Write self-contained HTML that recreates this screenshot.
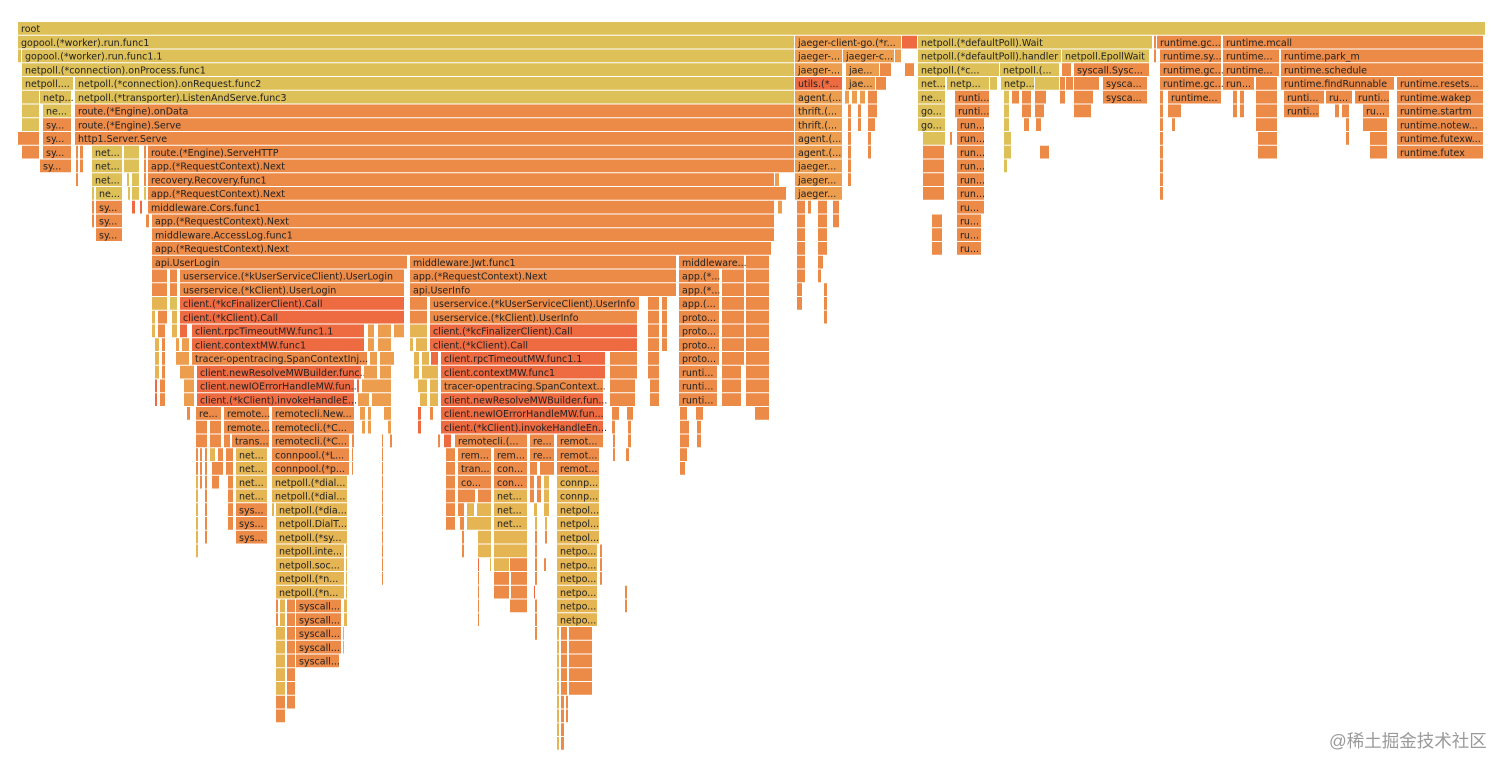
<!DOCTYPE html>
<html><head><meta charset="utf-8">
<style>
html,body{margin:0;padding:0;background:#fff;width:1512px;height:768px;overflow:hidden}
#fg{position:absolute;left:0;top:0}
.wm{position:absolute;left:1329px;top:728px;font-family:"Liberation Sans","Noto Sans CJK SC",sans-serif;font-size:17.5px;color:#9a9a9a}
</style></head><body>
<svg id="fg" width="1512" height="768"></svg>
<div class="wm">@稀土掘金技术社区</div>
<script>
// samples on the same scale as the root frame [18,1486]
const rootStart = 18, rootEnd = 1486;
const palette = {Y:"#ddc058",L:"#e4b552",A:"#ec9d4e",O:"#ec8a47",R:"#ee6b41"};
// [depth, start, end, name, color]
const frames = [
[0,18,1486,"root","Y"],
[1,18,795,"gopool.(*worker).run.func1","Y"],[1,795,902,"jaeger-client-go.(*r...","A"],[1,902,918,"","R"],[1,918,1153,"netpoll.(*defaultPoll).Wait","Y"],[1,1154,1157,"","O"],[1,1157,1222,"runtime.gc...","O"],[1,1223,1484,"runtime.mcall","O"],
[2,18,22,"","Y"],[2,22,795,"gopool.(*worker).run.func1.1","Y"],[2,795,843,"jaeger-...","A"],[2,843,895,"jaeger-c...","A"],[2,895,902,"","A"],[2,918,1062,"netpoll.(*defaultPoll).handler","Y"],[2,1062,1150,"netpoll.EpollWait","Y"],[2,1154,1157,"","O"],[2,1160,1222,"runtime.sy...","O"],[2,1223,1280,"runtime...","O"],[2,1281,1484,"runtime.park_m","O"],
[3,22,795,"netpoll.(*connection).onProcess.func1","Y"],[3,795,843,"jaeger-...","A"],[3,846,880,"jae...","A"],[3,880,892,"","O"],[3,905,915,"","O"],[3,918,1000,"netpoll.(*c...","Y"],[3,1000,1060,"netpoll.(...","Y"],[3,1062,1072,"","O"],[3,1074,1150,"syscall.Sysc...","O"],[3,1160,1222,"runtime.gc...","O"],[3,1223,1280,"runtime...","O"],[3,1281,1484,"runtime.schedule","O"],
[4,22,74,"netpoll....","Y"],[4,75,795,"netpoll.(*connection).onRequest.func2","Y"],[4,795,843,"utils.(*...","R"],[4,846,876,"jae...","A"],[4,876,887,"","O"],[4,918,946,"net...","Y"],[4,947,990,"netp...","Y"],[4,990,998,"","Y"],[4,1001,1035,"netp...","Y"],[4,1035,1060,"","Y"],[4,1060,1066,"","O"],[4,1066,1074,"","O"],[4,1074,1100,"","O"],[4,1103,1148,"sysca...","O"],[4,1160,1222,"runtime.gc...","O"],[4,1223,1255,"run...","O"],[4,1256,1278,"","O"],[4,1281,1395,"runtime.findRunnable","O"],[4,1397,1484,"runtime.resets...","O"],
[5,22,40,"","Y"],[5,40,72,"netp...","Y"],[5,75,795,"netpoll.(*transporter).ListenAndServe.func3","Y"],[5,795,843,"agent.(...","A"],[5,845,850,"","A"],[5,852,858,"","A"],[5,860,866,"","A"],[5,868,878,"","O"],[5,918,946,"ne...","Y"],[5,955,990,"runti...","O"],[5,1004,1010,"","Y"],[5,1012,1020,"","O"],[5,1022,1032,"","O"],[5,1035,1047,"","O"],[5,1060,1066,"","O"],[5,1074,1094,"","O"],[5,1103,1148,"sysca...","O"],[5,1160,1164,"","O"],[5,1168,1222,"runtime...","O"],[5,1233,1238,"","O"],[5,1240,1245,"","O"],[5,1256,1278,"","O"],[5,1284,1325,"runti...","O"],[5,1326,1353,"ru...","O"],[5,1355,1390,"runti...","O"],[5,1397,1484,"runtime.wakep","O"],
[6,22,40,"","Y"],[6,43,72,"ne...","Y"],[6,75,795,"route.(*Engine).onData","O"],[6,795,843,"thrift.(...","A"],[6,848,852,"","O"],[6,858,862,"","O"],[6,868,878,"","O"],[6,918,946,"go...","Y"],[6,955,990,"runti...","O"],[6,1004,1010,"","Y"],[6,1022,1032,"","O"],[6,1035,1045,"","O"],[6,1074,1092,"","O"],[6,1160,1164,"","O"],[6,1168,1182,"","O"],[6,1233,1238,"","O"],[6,1240,1245,"","O"],[6,1256,1278,"","O"],[6,1284,1320,"runti...","O"],[6,1335,1340,"","O"],[6,1342,1350,"","O"],[6,1363,1390,"ru...","O"],[6,1397,1484,"runtime.startm","O"],
[7,22,40,"","Y"],[7,43,72,"sy...","O"],[7,75,795,"route.(*Engine).Serve","O"],[7,795,843,"thrift.(...","A"],[7,848,852,"","O"],[7,858,862,"","O"],[7,868,876,"","O"],[7,918,946,"go...","Y"],[7,957,985,"run...","O"],[7,1004,1010,"","Y"],[7,1024,1030,"","O"],[7,1036,1042,"","O"],[7,1160,1164,"","O"],[7,1172,1176,"","O"],[7,1256,1278,"","O"],[7,1346,1350,"","O"],[7,1363,1388,"","O"],[7,1397,1484,"runtime.notew...","O"],
[8,18,40,"","O"],[8,43,72,"sy...","O"],[8,75,795,"http1.Server.Serve","O"],[8,795,843,"agent.(...","A"],[8,848,852,"","O"],[8,868,872,"","O"],[8,923,946,"","Y"],[8,950,953,"","O"],[8,957,985,"run...","O"],[8,1004,1012,"","Y"],[8,1160,1164,"","O"],[8,1346,1350,"","O"],[8,1370,1388,"","O"],[8,1397,1484,"runtime.futexw...","O"],
[9,22,40,"","O"],[9,43,72,"sy...","O"],[9,76,79,"","O"],[9,80,84,"","O"],[9,92,123,"net...","Y"],[9,124,140,"","Y"],[9,144,147,"","O"],[9,148,795,"route.(*Engine).ServeHTTP","O"],[9,795,843,"agent.(...","A"],[9,848,852,"","O"],[9,868,872,"","O"],[9,923,945,"","O"],[9,957,985,"run...","O"],[9,1004,1012,"","Y"],[9,1040,1050,"","O"],[9,1160,1164,"","O"],[9,1370,1388,"","O"],[9,1397,1484,"runtime.futex","O"],
[10,40,72,"sy...","O"],[10,76,79,"","O"],[10,80,84,"","O"],[10,92,123,"net...","Y"],[10,124,140,"","Y"],[10,144,147,"","O"],[10,148,795,"app.(*RequestContext).Next","O"],[10,795,843,"jaeger...","A"],[10,848,852,"","O"],[10,923,945,"","O"],[10,957,985,"run...","O"],[10,1004,1008,"","Y"],[10,1160,1164,"","O"],
[11,76,79,"","O"],[11,92,123,"net...","Y"],[11,127,130,"","Y"],[11,132,140,"","Y"],[11,144,147,"","O"],[11,148,775,"recovery.Recovery.func1","O"],[11,775,780,"","A"],[11,795,843,"jaeger...","A"],[11,848,852,"","O"],[11,923,945,"","O"],[11,957,985,"run...","O"],[11,1160,1164,"","O"],
[12,92,95,"","Y"],[12,96,123,"ne...","Y"],[12,128,131,"","Y"],[12,132,140,"","Y"],[12,144,147,"","Y"],[12,148,787,"app.(*RequestContext).Next","O"],[12,795,843,"jaeger...","A"],[12,923,945,"","O"],[12,957,985,"run...","O"],[12,1160,1164,"","O"],
[13,92,95,"","O"],[13,96,123,"sy...","O"],[13,132,136,"","R"],[13,140,143,"","R"],[13,148,775,"middleware.Cors.func1","O"],[13,778,783,"","A"],[13,797,806,"","O"],[13,808,812,"","O"],[13,818,828,"","O"],[13,833,840,"","O"],[13,957,985,"ru...","O"],
[14,92,95,"","O"],[14,96,123,"sy...","O"],[14,146,150,"","O"],[14,152,775,"app.(*RequestContext).Next","O"],[14,797,806,"","O"],[14,818,828,"","O"],[14,833,840,"","O"],[14,932,943,"","O"],[14,957,982,"ru...","O"],
[15,96,123,"sy...","O"],[15,152,775,"middleware.AccessLog.func1","O"],[15,797,806,"","O"],[15,818,828,"","O"],[15,932,943,"","O"],[15,957,982,"ru...","O"],
[16,152,772,"app.(*RequestContext).Next","O"],[16,797,806,"","O"],[16,818,828,"","O"],[16,932,943,"","O"],[16,957,982,"ru...","O"],
[17,152,408,"api.UserLogin","O"],[17,410,677,"middleware.Jwt.func1","O"],[17,679,745,"middleware...","O"],[17,746,770,"","O"],[17,797,806,"","O"],[17,818,824,"","O"],
[18,152,168,"","O"],[18,170,178,"","O"],[18,180,405,"userservice.(*kUserServiceClient).UserLogin","O"],[18,410,677,"app.(*RequestContext).Next","O"],[18,679,720,"app.(*...","O"],[18,722,745,"","O"],[18,746,770,"","O"],[18,797,806,"","O"],[18,818,822,"","O"],
[19,152,168,"","O"],[19,170,178,"","O"],[19,180,405,"userservice.(*kClient).UserLogin","O"],[19,410,677,"api.UserInfo","O"],[19,679,720,"app.(*...","O"],[19,722,745,"","O"],[19,746,770,"","O"],[19,797,803,"","O"],[19,824,828,"","O"],
[20,152,168,"","L"],[20,170,178,"","Y"],[20,180,405,"client.(*kcFinalizerClient).Call","R"],[20,410,428,"","O"],[20,430,640,"userservice.(*kUserServiceClient).UserInfo","O"],[20,648,660,"","O"],[20,662,668,"","O"],[20,679,720,"app.(...","O"],[20,722,745,"","O"],[20,746,770,"","O"],[20,797,803,"","O"],[20,824,828,"","O"],
[21,152,156,"","L"],[21,158,168,"","O"],[21,172,178,"","L"],[21,180,405,"client.(*kClient).Call","R"],[21,410,428,"","O"],[21,430,638,"userservice.(*kClient).UserInfo","O"],[21,648,660,"","O"],[21,662,668,"","O"],[21,679,720,"proto...","O"],[21,722,745,"","O"],[21,746,770,"","O"],[21,824,828,"","O"],
[22,152,156,"","L"],[22,158,166,"","O"],[22,172,178,"","L"],[22,180,188,"","R"],[22,192,365,"client.rpcTimeoutMW.func1.1","R"],[22,368,375,"","A"],[22,378,392,"","A"],[22,394,405,"","A"],[22,410,428,"","L"],[22,430,638,"client.(*kcFinalizerClient).Call","R"],[22,648,660,"","O"],[22,662,668,"","O"],[22,679,720,"proto...","O"],[22,722,745,"","O"],[22,746,770,"","O"],
[23,155,160,"","L"],[23,162,166,"","O"],[23,176,180,"","A"],[23,182,190,"","A"],[23,192,365,"client.contextMW.func1","R"],[23,368,375,"","A"],[23,378,392,"","A"],[23,410,414,"","L"],[23,416,428,"","L"],[23,430,638,"client.(*kClient).Call","R"],[23,648,660,"","O"],[23,662,668,"","O"],[23,679,720,"proto...","O"],[23,722,745,"","O"],[23,746,770,"","O"],
[24,155,160,"","L"],[24,162,166,"","O"],[24,176,190,"","A"],[24,192,368,"tracer-opentracing.SpanContextInj...","O"],[24,370,378,"","A"],[24,380,395,"","A"],[24,414,420,"","L"],[24,422,430,"","L"],[24,431,439,"","R"],[24,441,606,"client.rpcTimeoutMW.func1.1","R"],[24,610,638,"","O"],[24,648,660,"","O"],[24,679,720,"proto...","O"],[24,722,745,"","O"],[24,746,770,"","O"],
[25,155,160,"","L"],[25,162,166,"","O"],[25,180,195,"","A"],[25,197,362,"client.newResolveMWBuilder.func...","R"],[25,364,378,"","A"],[25,380,392,"","A"],[25,414,420,"","L"],[25,422,439,"","L"],[25,441,606,"client.contextMW.func1","R"],[25,610,638,"","O"],[25,648,660,"","O"],[25,679,718,"runti...","O"],[25,722,742,"","O"],[25,746,770,"","O"],
[26,155,158,"","R"],[26,160,166,"","O"],[26,184,195,"","A"],[26,197,355,"client.newIOErrorHandleMW.fun...","R"],[26,357,360,"","R"],[26,362,392,"","A"],[26,418,428,"","L"],[26,430,439,"","L"],[26,441,604,"tracer-opentracing.SpanContext...","O"],[26,610,636,"","O"],[26,650,660,"","O"],[26,679,718,"runti...","O"],[26,722,742,"","O"],[26,746,770,"","O"],
[27,155,158,"","R"],[27,160,166,"","O"],[27,184,195,"","A"],[27,197,355,"client.(*kClient).invokeHandleE...","R"],[27,358,370,"","A"],[27,372,392,"","A"],[27,420,428,"","L"],[27,430,439,"","L"],[27,441,604,"client.newResolveMWBuilder.fun...","R"],[27,610,636,"","O"],[27,650,660,"","O"],[27,679,718,"runti...","O"],[27,722,742,"","O"],[27,746,770,"","O"],
[28,187,191,"","O"],[28,196,222,"re...","O"],[28,224,270,"remote...","O"],[28,272,355,"remotecli.New...","O"],[28,360,366,"","A"],[28,368,372,"","A"],[28,384,392,"","A"],[28,418,422,"","R"],[28,430,434,"","O"],[28,441,604,"client.newIOErrorHandleMW.fun...","R"],[28,612,620,"","O"],[28,627,634,"","O"],[28,680,688,"","O"],[28,696,704,"","O"],[28,755,770,"","O"],
[29,196,208,"","O"],[29,210,222,"","O"],[29,224,270,"remote...","O"],[29,272,355,"remotecli.(*C...","O"],[29,362,366,"","A"],[29,368,372,"","A"],[29,388,392,"","A"],[29,418,422,"","R"],[29,441,604,"client.(*kClient).invokeHandleEn...","R"],[29,612,616,"","O"],[29,628,632,"","O"],[29,680,690,"","O"],[29,697,702,"","O"],
[30,196,208,"","O"],[30,210,222,"","O"],[30,224,231,"","O"],[30,232,270,"trans...","O"],[30,272,350,"remotecli.(*C...","O"],[30,352,355,"","O"],[30,382,384,"","O"],[30,390,393,"","O"],[30,438,441,"","O"],[30,444,452,"","R"],[30,455,528,"remotecli.(...","O"],[30,530,555,"re...","O"],[30,557,604,"remot...","O"],[30,613,616,"","O"],[30,628,632,"","O"],[30,680,690,"","O"],[30,697,702,"","O"],
[31,196,199,"","O"],[31,200,203,"","O"],[31,205,208,"","O"],[31,210,216,"","L"],[31,218,224,"","O"],[31,226,234,"","O"],[31,236,268,"net...","L"],[31,272,350,"connpool.(*L...","O"],[31,352,354,"","O"],[31,382,384,"","O"],[31,446,456,"","O"],[31,458,492,"rem...","O"],[31,494,528,"rem...","O"],[31,530,555,"re...","O"],[31,557,600,"remot...","O"],[31,613,616,"","O"],[31,626,630,"","O"],[31,680,688,"","O"],
[32,196,199,"","O"],[32,200,203,"","O"],[32,205,208,"","O"],[32,212,224,"","O"],[32,226,234,"","O"],[32,236,268,"net...","L"],[32,272,350,"connpool.(*p...","O"],[32,352,354,"","O"],[32,382,384,"","O"],[32,446,456,"","O"],[32,458,492,"tran...","O"],[32,494,528,"con...","O"],[32,530,538,"","O"],[32,540,555,"","O"],[32,557,600,"remot...","O"],[32,680,686,"","O"],
[33,196,199,"","L"],[33,200,203,"","O"],[33,205,208,"","O"],[33,212,220,"","O"],[33,228,234,"","O"],[33,236,268,"net...","L"],[33,272,348,"netpoll.(*dial...","L"],[33,382,384,"","O"],[33,446,456,"","O"],[33,458,492,"co...","O"],[33,494,528,"con...","O"],[33,530,535,"","O"],[33,537,542,"","O"],[33,544,550,"","L"],[33,557,600,"connp...","L"],
[34,196,199,"","L"],[34,205,208,"","O"],[34,228,234,"","O"],[34,236,268,"net...","L"],[34,272,348,"netpoll.(*dial...","L"],[34,382,384,"","O"],[34,446,456,"","O"],[34,458,476,"","O"],[34,478,492,"","O"],[34,494,528,"net...","L"],[34,530,535,"","O"],[34,537,542,"","O"],[34,544,550,"","L"],[34,557,600,"connp...","L"],
[35,196,199,"","L"],[35,205,208,"","O"],[35,228,234,"","O"],[35,236,268,"sys...","O"],[35,272,275,"","L"],[35,276,348,"netpoll.(*dia...","L"],[35,382,384,"","O"],[35,446,456,"","O"],[35,458,465,"","O"],[35,467,475,"","L"],[35,477,492,"","L"],[35,494,528,"net...","L"],[35,534,538,"","L"],[35,544,550,"","L"],[35,557,600,"netpol...","L"],
[36,196,199,"","L"],[36,205,208,"","O"],[36,228,234,"","O"],[36,236,268,"sys...","O"],[36,276,348,"netpoll.DialT...","L"],[36,382,384,"","O"],[36,446,456,"","O"],[36,460,465,"","O"],[36,467,492,"","L"],[36,494,528,"net...","L"],[36,535,538,"","L"],[36,545,548,"","L"],[36,557,600,"netpol...","L"],
[37,196,199,"","L"],[37,205,208,"","O"],[37,236,268,"sys...","O"],[37,276,348,"netpoll.(*sy...","L"],[37,382,384,"","O"],[37,462,465,"","O"],[37,478,492,"","L"],[37,494,528,"","L"],[37,535,538,"","O"],[37,545,548,"","O"],[37,557,600,"netpol...","L"],
[38,196,199,"","L"],[38,276,345,"netpoll.inte...","L"],[38,346,348,"","L"],[38,382,384,"","O"],[38,462,465,"","O"],[38,478,492,"","L"],[38,494,528,"","L"],[38,535,538,"","O"],[38,557,598,"netpo...","L"],[38,600,603,"","O"],
[39,276,345,"netpoll.soc...","L"],[39,346,348,"","L"],[39,382,384,"","O"],[39,478,480,"","R"],[39,490,492,"","L"],[39,494,510,"","L"],[39,510,528,"","O"],[39,535,538,"","O"],[39,544,547,"","O"],[39,557,598,"netpo...","L"],[39,600,603,"","O"],
[40,276,345,"netpoll.(*n...","L"],[40,346,348,"","L"],[40,382,384,"","O"],[40,478,480,"","O"],[40,494,510,"","O"],[40,511,528,"","O"],[40,535,538,"","O"],[40,557,598,"netpo...","L"],[40,600,603,"","O"],
[41,276,345,"netpoll.(*n...","L"],[41,346,348,"","L"],[41,478,480,"","O"],[41,494,510,"","O"],[41,511,528,"","O"],[41,534,536,"","R"],[41,557,598,"netpo...","L"],[41,625,628,"","O"],
[42,276,279,"","O"],[42,280,286,"","L"],[42,287,296,"","O"],[42,296,342,"syscall...","O"],[42,344,348,"","L"],[42,478,480,"","O"],[42,510,528,"","O"],[42,535,538,"","O"],[42,557,598,"netpo...","L"],[42,625,628,"","O"],
[43,276,279,"","O"],[43,280,286,"","L"],[43,287,296,"","O"],[43,296,342,"syscall...","O"],[43,344,348,"","L"],[43,478,480,"","O"],[43,535,538,"","O"],[43,557,598,"netpo...","L"],
[44,276,286,"","L"],[44,287,296,"","O"],[44,296,342,"syscall...","O"],[44,343,345,"","L"],[44,535,538,"","O"],[44,557,560,"","L"],[44,561,568,"","O"],[44,569,593,"","O"],
[45,276,286,"","L"],[45,287,296,"","O"],[45,296,342,"syscall...","O"],[45,343,345,"","L"],[45,557,560,"","L"],[45,561,568,"","O"],[45,569,593,"","O"],
[46,276,286,"","L"],[46,287,296,"","O"],[46,296,340,"syscall...","O"],[46,557,560,"","L"],[46,561,568,"","O"],[46,569,593,"","O"],
[47,276,286,"","L"],[47,287,296,"","O"],[47,557,560,"","L"],[47,561,568,"","O"],[47,569,593,"","O"],
[48,276,286,"","L"],[48,287,296,"","O"],[48,557,560,"","L"],[48,561,568,"","O"],[48,569,593,"","O"],
[49,276,286,"","O"],[49,287,296,"","O"],[49,557,560,"","L"],[49,561,565,"","O"],[49,566,569,"","O"],
[50,276,286,"","O"],[50,557,560,"","L"],[50,561,565,"","O"],[50,566,569,"","O"],
[51,557,560,"","L"],[51,561,565,"","O"],
[52,557,560,"","L"],[52,561,565,"","O"],
[8,1258,1278,"","O"],[9,1258,1278,"","O"],[8,1370,1388,"","O"]
];
const rowTop = 22, rowStep = 13.75;
const svg = document.getElementById('fg');
const NS = 'http://www.w3.org/2000/svg';
function xScale(s){ return 18 + (s - rootStart) * (1468 / (rootEnd - rootStart)); }
function yScale(d){ return rowTop + d * rowStep; }
frames.forEach(function(f){
  const x0 = xScale(f[1]), x1 = xScale(f[2]), y = yScale(f[0]);
  const g = document.createElementNS(NS,'g');
  
  
  const r = document.createElementNS(NS,'rect');
  r.setAttribute('x', x0); r.setAttribute('y', y);
  r.setAttribute('width', Math.max(0.8, x1 - x0 - 1)); r.setAttribute('height', rowStep - 1);
  r.setAttribute('fill', palette[f[4]]);
  g.appendChild(r);
  if (f[3]) {
    const t = document.createElementNS(NS,'text');
    t.setAttribute('x', x0 + 3); t.setAttribute('y', y + 10);
    t.setAttribute('font-family', 'DejaVu Sans, Liberation Sans, sans-serif');
    t.setAttribute('font-size', '9.5');
    t.setAttribute('fill', '#222');
    t.textContent = f[3];
    g.appendChild(t);
  }
  svg.appendChild(g);
});
</script>
</body></html>
